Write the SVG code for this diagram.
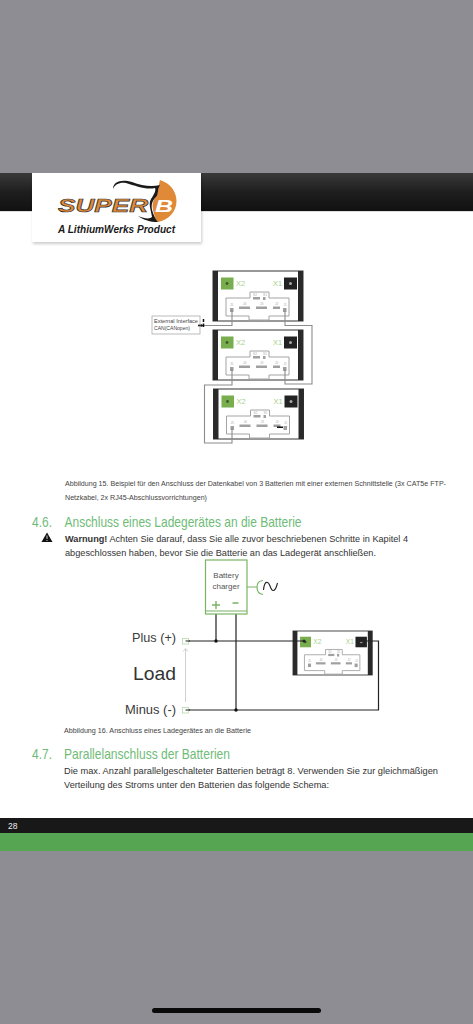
<svg xmlns="http://www.w3.org/2000/svg" xmlns:xlink="http://www.w3.org/1999/xlink" width="473" height="1024" viewBox="0 0 473 1024">
<style>
text{font-family:"Liberation Sans",Arial,sans-serif}
.body{font-size:9.5px;fill:#333}
.cap{font-size:7px;fill:#444}
.h{font-size:14.5px;fill:#6fbb78}
.lab{font-size:12.5px;fill:#3a3a3a}
.tiny{font-size:3.2px;fill:#aaa}
.x2{font-size:7.5px;fill:#a9d08e}
.wg{fill:none;stroke:#8c8c8c;stroke-width:1.1}
.wk{fill:none;stroke:#222;stroke-width:1.2}
.bar{fill:#2a2a2a}
.pin{fill:#a0a0a0}
.gr{fill:none;stroke:#79b465;stroke-width:1.2}
</style>
<defs>
<linearGradient id="hdr" x1="0" y1="0" x2="0" y2="1"><stop offset="0" stop-color="#3a3a3a"/><stop offset="0.5" stop-color="#1e1e1e"/><stop offset="1" stop-color="#111"/></linearGradient>
<filter id="sh" x="-10%" y="-10%" width="120%" height="125%"><feGaussianBlur stdDeviation="1.5"/></filter>
<g id="bat">
<rect x="0" y="0" width="90" height="50" fill="#fff" stroke="#333" stroke-width="1"/>
<rect class="bar" x="0" y="0" width="5" height="50"/>
<rect class="bar" x="85" y="0" width="5" height="50"/>
<rect x="8" y="6.500" width="12.500" height="12" fill="#78ae4e"/>
<circle cx="14" cy="12.500" r="1.400" fill="#3c5a28"/>
<rect x="71" y="6.500" width="13" height="12" fill="#222"/>
<circle cx="77.500" cy="12.500" r="1.500" fill="#aaa"/>
<text class="x2" x="23" y="15">X2</text>
<text class="x2" x="60" y="15">X1</text>
<path d="M13 27H37V21H56V27H76V45H56V49H36V45H13Z" fill="#fff" stroke="#a4a4a4" stroke-width="1"/>
<text class="tiny" x="40" y="25">S2</text><text class="tiny" x="50" y="25">S1</text>
<rect class="pin" x="40" y="26" width="7" height="2.500"/><rect class="pin" x="50" y="26" width="2.500" height="3"/>
<text class="tiny" x="30" y="34">J4</text><rect class="pin" x="26" y="35.500" width="11" height="2.500"/>
<text class="tiny" x="47" y="34">J3</text><rect class="pin" x="43" y="35.500" width="11" height="2.500"/>
<text class="tiny" x="62" y="34">J2</text><rect class="pin" x="60" y="35.500" width="7" height="2.500"/>
<text class="tiny" x="17" y="35">J5</text><rect class="pin" x="17" y="37" width="3.500" height="4"/>
<text class="tiny" x="70.500" y="35">J1</text><rect class="pin" x="70" y="37" width="3.500" height="4"/>
</g>
</defs>

<g id="page">
<rect width="473" height="1024" fill="#8e8d93"/>
<rect y="173" width="473" height="38" fill="url(#hdr)"/>
<rect y="211" width="473" height="607" fill="#fff"/>
<rect y="211" width="473" height="1" fill="#ddd"/>
<rect y="818" width="473" height="15" fill="#181818"/>
<rect y="833" width="473" height="18" fill="#55a552"/>
<rect x="152" y="1008" width="169" height="5" rx="2.500" fill="#0a0a0a"/>
<text x="8" y="829" font-size="8.500" fill="#eee">28</text>
</g>

<g id="logo">
<rect x="33" y="175" width="169" height="69" fill="#000" opacity="0.2" filter="url(#sh)"/>
<rect x="32" y="173" width="169" height="69" fill="#fff"/>
<path d="M160 180C172 184 176.500 193 176.500 201C176.500 212 168 220 158 222C154 222 156 219 154 214C152 206 152 203 155 198C159 193 158 187 160 180Z" fill="#e08a38"/>
<path d="M113 189C113 181 122 179 132 182C142 186 152 187 160 185C157 190 159 195 155 198C151 203 151 207 153 213C155 218 156 220 158 222C150 222 144 220 138 216C145 219 150 219 152 217C151 210 148 204 151 199C155 193 156 190 155 188C146 190 136 186 126 183C120 182 115 184 113 189Z" fill="#1a1a1a"/>
<text x="58" y="212" font-size="19" font-weight="700" font-style="italic" fill="#e08a38" stroke="#333" stroke-width="0.7" textLength="90" lengthAdjust="spacingAndGlyphs">SUPER</text>
<text x="155" y="212" font-size="17" font-weight="700" font-style="italic" fill="#fff" textLength="18" lengthAdjust="spacingAndGlyphs">B</text>
<text x="58" y="233" font-size="11" font-weight="700" font-style="italic" fill="#1a1a1a" textLength="117" lengthAdjust="spacingAndGlyphs">A LithiumWerks Product</text>
</g>

<g id="battery-1"><use xlink:href="#bat" href="#bat" x="213" y="271"/></g>
<g id="battery-2"><use xlink:href="#bat" href="#bat" x="213" y="330"/></g>
<g id="battery-3"><use xlink:href="#bat" href="#bat" x="213.500" y="389"/>
<rect x="277" y="426.500" width="6" height="1.500" fill="#111"/></g>
<g id="battery-4"><use xlink:href="#bat" href="#bat" transform="translate(293 631) scale(0.88)"/></g>

<g id="connectors">
<path class="wg" d="M200 325.500H232V310"/>
<path class="wg" d="M285 310V325.500H312V384H285V369"/>
<path class="wg" d="M232 369V385H204.500V443H232V428"/>
<path class="wk" d="M216 614V641M236 614V710"/>
<path class="wk" d="M186 641H305"/>
<path class="wk" d="M186 710H378.500V641H361"/>
<path d="M185.500 702V649M183 651.500L185.500 648.500L188 651.500" fill="none" stroke="#c4c4c4" stroke-width="0.8"/>
<circle cx="304" cy="641" r="1.500" fill="#222"/><circle cx="361" cy="641" r="1.300" fill="#222"/>
</g>

<g id="external-interface">
<rect x="152" y="316" width="48" height="18" fill="#fff" stroke="#aaa" stroke-width="0.8"/>
<text x="154" y="322.500" font-size="5.500" fill="#444" textLength="44" lengthAdjust="spacingAndGlyphs">External Interface</text>
<text x="154" y="330" font-size="5.500" fill="#444" textLength="36" lengthAdjust="spacingAndGlyphs">CAN(CANopen)</text>
<circle cx="199" cy="325.500" r="1" fill="#111"/>
<circle cx="201.500" cy="325.500" r="1.300" fill="#111"/>
<path d="M203.500 319V322M203.500 323.500V327" stroke="#111" stroke-width="1.500"/>
</g>

<g id="charger">
<rect x="205.500" y="560" width="41.500" height="54" fill="#fff" stroke="#79b465" stroke-width="1.200"/>
<path class="gr" d="M205.500 611H247"/>
<text x="226" y="578" font-size="8" fill="#555" text-anchor="middle">Battery</text>
<text x="226" y="588.500" font-size="8" fill="#555" text-anchor="middle">charger</text>
<path d="M212 605H220M216 601V609M232.500 603H238.500" stroke="#79b465" stroke-width="1.400" fill="none"/>
<path class="gr" d="M247 587H257M263 580.500C258 581 257 584 257 587C257 590 258 594 263 594.500"/>
<path d="M263.500 590C264.500 580 268 581 270 586C272 592 275 593 277.500 583" fill="none" stroke="#222" stroke-width="1.100"/>
</g>

<g id="load">
<rect x="182.500" y="638.500" width="6" height="5.500" fill="#fff" stroke="#b9d9ad" stroke-width="0.8"/>
<rect x="182.500" y="707.500" width="6" height="5.500" fill="#fff" stroke="#b9d9ad" stroke-width="0.8"/>
<path class="wk" d="M185.500 641H190M185.500 710H190"/>
<circle cx="216" cy="641" r="1.700" fill="#111"/>
<circle cx="236" cy="710" r="1.700" fill="#111"/>
<text class="lab" x="132" y="642" textLength="44" lengthAdjust="spacingAndGlyphs">Plus (+)</text>
<text class="lab" x="125" y="713.500" textLength="51" lengthAdjust="spacingAndGlyphs">Minus (-)</text>
<text x="133" y="679.500" font-size="19" fill="#333" textLength="43" lengthAdjust="spacingAndGlyphs">Load</text>
</g>

<g id="texts">
<text class="cap" x="65" y="486" textLength="381" lengthAdjust="spacingAndGlyphs">Abbildung 15. Beispiel für den Anschluss der Datenkabel von 3 Batterien mit einer externen Schnittstelle (3x CAT5e FTP-</text>
<text class="cap" x="65" y="500" textLength="142" lengthAdjust="spacingAndGlyphs">Netzkabel, 2x RJ45-Abschlussvorrichtungen)</text>
<text class="h" x="32" y="526.500" textLength="20" lengthAdjust="spacingAndGlyphs">4.6.</text>
<text class="h" x="64.500" y="526.500" textLength="237" lengthAdjust="spacingAndGlyphs">Anschluss eines Ladegerätes an die Batterie</text>
<path d="M47 532.500L52.500 542H41.500Z" fill="#111"/>
<path d="M47 535.500V539M47 540V541" stroke="#fff" stroke-width="0.8"/>
<text class="body" x="65" y="541.500" textLength="343" lengthAdjust="spacingAndGlyphs"><tspan font-weight="700">Warnung!</tspan> Achten Sie darauf, dass Sie alle zuvor beschriebenen Schritte in Kapitel 4</text>
<text class="body" x="65" y="555.500" textLength="311" lengthAdjust="spacingAndGlyphs">abgeschlossen haben, bevor Sie die Batterie an das Ladegerät anschließen.</text>
<text class="cap" x="64" y="733" textLength="187" lengthAdjust="spacingAndGlyphs">Abbildung 16. Anschluss eines Ladegerätes an die Batterie</text>
<text class="h" x="32" y="758.500" textLength="20" lengthAdjust="spacingAndGlyphs">4.7.</text>
<text class="h" x="64" y="758.500" textLength="166" lengthAdjust="spacingAndGlyphs">Parallelanschluss der Batterien</text>
<text class="body" x="64" y="774" textLength="374" lengthAdjust="spacingAndGlyphs">Die max. Anzahl parallelgeschalteter Batterien beträgt 8. Verwenden Sie zur gleichmäßigen</text>
<text class="body" x="64" y="788" textLength="265" lengthAdjust="spacingAndGlyphs">Verteilung des Stroms unter den Batterien das folgende Schema:</text>
</g>
</svg>
